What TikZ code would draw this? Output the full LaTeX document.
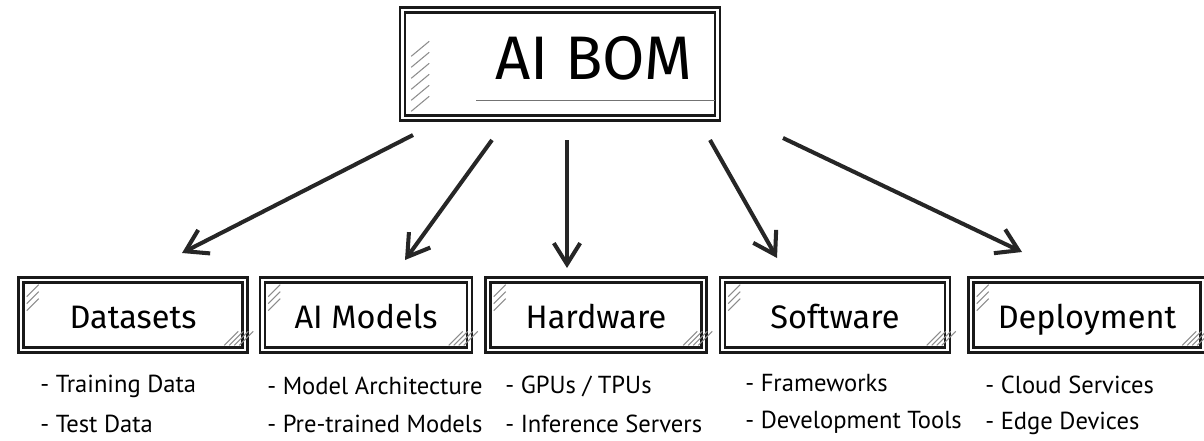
\documentclass[tikz,border=0pt]{standalone}
\usepackage{fontspec}
\setmainfont{Fira Sans}
\newfontfamily\listfont{PT Sans}
\usetikzlibrary{arrows.meta, calc}

\begin{document}
\begin{tikzpicture}[x=0.02cm, y=-0.02cm,
    box/.style={draw=black!90, line width=1.5pt, double=white, double distance=1.4pt,
                minimum height=1.4cm, inner sep=0pt, text height=17pt, text depth=2.2pt,
                font=\fontsize{18.5}{22}\selectfont},
    hatch/.style={draw=black!45, line width=0.6pt},
    item/.style={anchor=west, inner sep=0pt, font=\listfont\fontsize{14}{16}\selectfont},
    link/.style={line width=2.3pt, black!85, -{Straight Barb[length=12pt, width=15pt]}}]
    \useasboundingbox (0,0) rectangle (1204,440);

    % main box
    \node [box, minimum width=6.3cm, minimum height=2.16cm] (top) at (560,64) {};
    \node [font=\fontsize{35}{40}\selectfont, inner sep=0pt] (bom) at (594,58) {AI BOM};
    \draw [black!55, line width=0.9pt] ($(top.south west)+(75,-19)$) -- ($(top.south east)+(-4,-19)$);
    \foreach \k in {0,...,5}
        \draw [hatch] ($(top.south west)+(10,-8-11*\k)$) -- ++(18,-15);

    % the five parts
    \node [box, minimum width=4.48cm] (ds) at (133,315) {Datasets};
    \node [box, minimum width=4.14cm] (md) at (366,315) {AI Models};
    \node [box, minimum width=4.32cm] (hw) at (596,315) {Hardware};
    \node [box, minimum width=4.5cm] (sw) at (835,315) {Software};
    \node [box, minimum width=4.64cm] (dp) at (1087,315) {Deployment};
    \foreach \n in {ds,md,hw,sw,dp} {
        \foreach \k in {0,1,2}
            \draw [hatch] ($(\n.north west)+(7,18+7*\k)$) -- ++(12,-12);
        \foreach \k in {0,1,2,3}
            \draw [hatch] ($(\n.south east)+(-22+5*\k,-6)$) -- ++(14,-14);
    }

    % what each part holds
    \node [item] (ds1) at (40,386) {- Training Data};
    \node [item] (ds2) at (40,424) {- Test Data};
    \node [item] (md1) at (267,386) {- Model Architecture};
    \node [item] (md2) at (267,424) {- Pre-trained Models};
    \node [item] (hw1) at (505,386) {- GPUs / TPUs};
    \node [item] (hw2) at (505,424) {- Inference Servers};
    \node [item] (sw1) at (745,383) {- Frameworks};
    \node [item] (sw2) at (745,422) {- Development Tools};
    \node [item] (dp1) at (985,385) {- Cloud Services};
    \node [item] (dp2) at (985,423) {- Edge Devices};

    % arrows down from the main box
    \coordinate (a1) at (413,135);  \coordinate (b1) at (182,253);
    \coordinate (a2) at (492,140);  \coordinate (b2) at (405,260);
    \coordinate (a3) at (567,140);  \coordinate (b3) at (567,268);
    \coordinate (a4) at (710,140);  \coordinate (b4) at (777,258);
    \coordinate (a5) at (783,138);  \coordinate (b5) at (1022,252);
    \foreach \i in {1,...,5}
        \draw [link] (a\i) -- (b\i);
\end{tikzpicture}
\end{document}
